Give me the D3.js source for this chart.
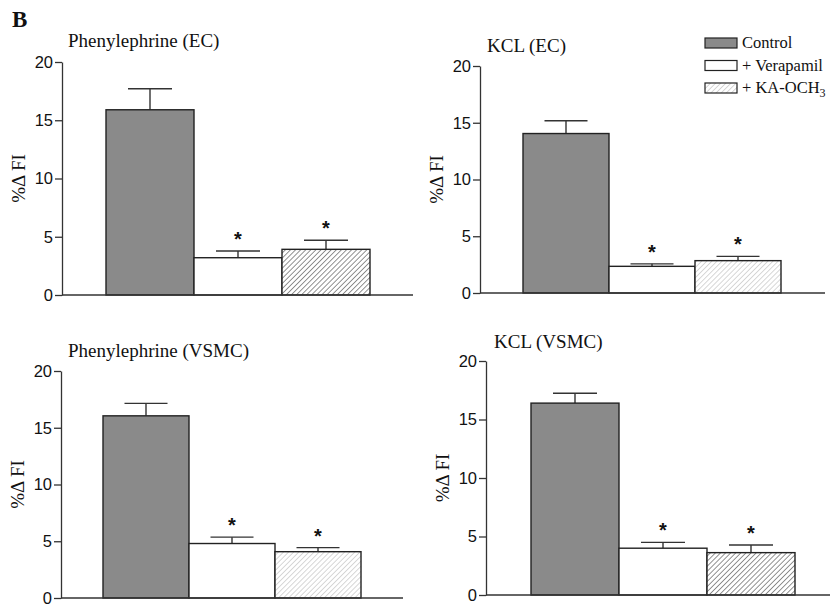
<!DOCTYPE html>
<html>
<head>
<meta charset="utf-8">
<script src="https://cdn.jsdelivr.net/npm/d3@7"></script>
<style>
  body { margin: 0; background: #fff; }
  svg { display: block; }
</style>
</head>
<body>
<div id="chart"></div>
<script>
// data
var groups = ["Control", "+ Verapamil", "+ KA-OCH3"];
var panelTitles = ["Phenylephrine (EC)", "KCL (EC)", "Phenylephrine (VSMC)", "KCL (VSMC)"];
var controlMean = [15.9, 14.05, 16.05, 16.4];
var controlErr = [1.8, 1.12, 1.1, 0.85];
var verapamilMean = [3.2, 2.35, 4.8, 4.0];
var verapamilErr = [0.58, 0.22, 0.56, 0.5];
var kaMean = [3.92, 2.85, 4.08, 3.62];
var kaErr = [0.78, 0.38, 0.36, 0.65];
var starred = [false, true, true];
var yTicks = [0, 5, 10, 15, 20];

var svgWidth = 831;
var svgHeight = 607;

var svg = d3.select("#chart").append("svg")
    .attr("width", svgWidth)
    .attr("height", svgHeight);

var defs = svg.append("defs");

//hatch patterns, dark and light
function addHatch(id, color, sw) {
    var p = defs.append("pattern")
        .attr("id", id)
        .attr("patternUnits", "userSpaceOnUse")
        .attr("width", 3.6)
        .attr("height", 3.6)
        .attr("patternTransform", "rotate(45)");
    p.append("rect").attr("width", 3.6).attr("height", 3.6).attr("fill", "#fff");
    p.append("line")
        .attr("x1", 0).attr("y1", 0)
        .attr("x2", 0).attr("y2", 3.6)
        .attr("stroke", color)
        .attr("stroke-width", sw);
}
addHatch("hatchDark", "#3a3a3a", 1.1);
addHatch("hatchLight", "#a8a8a8", 0.9);

//panel frames (layout only)
var panels = [
    {axisX: 62, top: 62, bottom: 295, end: 413, barX: 106, band: 88, titleX: 68, titleY: 47, hatch: "hatchDark"},
    {axisX: 480, top: 66, bottom: 293, end: 825, barX: 523, band: 86, titleX: 487, titleY: 52, hatch: "hatchLight"},
    {axisX: 61, top: 371, bottom: 598, end: 403, barX: 103, band: 86, titleX: 68, titleY: 357, hatch: "hatchLight"},
    {axisX: 486, top: 361, bottom: 595, end: 830, barX: 531, band: 88, titleX: 494, titleY: 348, hatch: "hatchDark"}
];

var serif = "'Liberation Serif', 'Times New Roman', serif";
var sans = "'Liberation Sans', Arial, sans-serif";

panels.forEach(function (p, i) {
    var g = svg.append("g");

    var y = d3.scaleLinear().domain([0, 20]).range([p.bottom, p.top]);
    var x = d3.scaleBand().domain(groups).range([p.barX, p.barX + 3 * p.band]).padding(0);

    var means = [controlMean[i], verapamilMean[i], kaMean[i]];
    var errs = [controlErr[i], verapamilErr[i], kaErr[i]];
    var fills = ["#8a8a8a", "#ffffff", "url(#" + p.hatch + ")"];

    var rows = groups.map(function (gname, j) {
        return {name: gname, mean: means[j], err: errs[j], fill: fills[j], star: starred[j]};
    });

    //y axis
    var yAxis = g.append("g")
        .attr("transform", `translate(${p.axisX},0)`)
        .call(d3.axisLeft(y).tickValues(yTicks).tickSize(7).tickSizeOuter(0).tickPadding(2));
    yAxis.select(".domain").attr("stroke", "#333").attr("stroke-width", 1.3);
    yAxis.selectAll(".tick line").attr("stroke", "#333").attr("stroke-width", 1.3);
    yAxis.selectAll(".tick text")
        .attr("font-family", sans)
        .attr("font-size", "16.5px")
        .attr("fill", "#111");

    //error bars (upper only)
    g.selectAll(".err")
        .data(rows)
        .enter()
        .append("line")
        .attr("x1", d => x(d.name) + x.bandwidth() / 2)
        .attr("x2", d => x(d.name) + x.bandwidth() / 2)
        .attr("y1", d => y(d.mean))
        .attr("y2", d => y(d.mean + d.err))
        .attr("stroke", "#333")
        .attr("stroke-width", 1.4);

    g.selectAll(".cap")
        .data(rows)
        .enter()
        .append("line")
        .attr("x1", d => x(d.name) + x.bandwidth() / 4)
        .attr("x2", d => x(d.name) + x.bandwidth() * 3 / 4)
        .attr("y1", d => y(d.mean + d.err))
        .attr("y2", d => y(d.mean + d.err))
        .attr("stroke", "#333")
        .attr("stroke-width", 1.4);

    //bars
    g.selectAll(".bar")
        .data(rows)
        .enter()
        .append("rect")
        .attr("x", d => x(d.name))
        .attr("y", d => y(d.mean))
        .attr("width", x.bandwidth())
        .attr("height", d => y(0) - y(d.mean))
        .attr("fill", d => d.fill)
        .attr("stroke", "#222")
        .attr("stroke-width", 1.4);

    //x axis line
    g.append("line")
        .attr("x1", p.axisX)
        .attr("x2", p.end)
        .attr("y1", y(0))
        .attr("y2", y(0))
        .attr("stroke", "#333")
        .attr("stroke-width", 1.4);

    //asterisks
    g.selectAll(".star")
        .data(rows.filter(d => d.star))
        .enter()
        .append("text")
        .attr("x", d => x(d.name) + x.bandwidth() / 2)
        .attr("y", d => y(d.mean + d.err) - 5)
        .attr("text-anchor", "middle")
        .attr("font-family", sans)
        .attr("font-weight", "bold")
        .attr("font-size", "20px")
        .attr("fill", "#111")
        .text("*");

    //title
    g.append("text")
        .attr("x", p.titleX)
        .attr("y", p.titleY)
        .attr("font-family", serif)
        .attr("font-size", "19px")
        .attr("fill", "#111")
        .text(panelTitles[i]);

    //y label
    g.append("text")
        .attr("transform", `translate(${p.axisX - 37},${(p.top + p.bottom) / 2}) rotate(-90)`)
        .attr("text-anchor", "middle")
        .attr("font-family", serif)
        .attr("font-size", "19px")
        .attr("fill", "#111")
        .text("%\u0394 FI");
});

//panel letter
svg.append("text")
    .attr("x", 12)
    .attr("y", 27)
    .attr("font-family", serif)
    .attr("font-weight", "bold")
    .attr("font-size", "23px")
    .attr("fill", "#111")
    .text("B");

//legend
var legendFills = ["#8a8a8a", "#ffffff", "url(#hatchLight)"];
var legend = svg.append("g").attr("transform", "translate(705,38)");

groups.forEach(function (name, j) {
    var row = legend.append("g").attr("transform", `translate(0,${j * 22.5})`);
    row.append("rect")
        .attr("width", 32)
        .attr("height", 10)
        .attr("fill", legendFills[j])
        .attr("stroke", "#222")
        .attr("stroke-width", 1.2);
    var t = row.append("text")
        .attr("x", 37)
        .attr("y", 10)
        .attr("font-family", serif)
        .attr("font-size", "16.5px")
        .attr("fill", "#111");
    if (name === "+ KA-OCH3") {
        t.append("tspan").text("+ KA-OCH");
        t.append("tspan").attr("dy", 4).attr("font-size", "12px").text("3");
    } else {
        t.text(name);
    }
});
</script>
</body>
</html>
